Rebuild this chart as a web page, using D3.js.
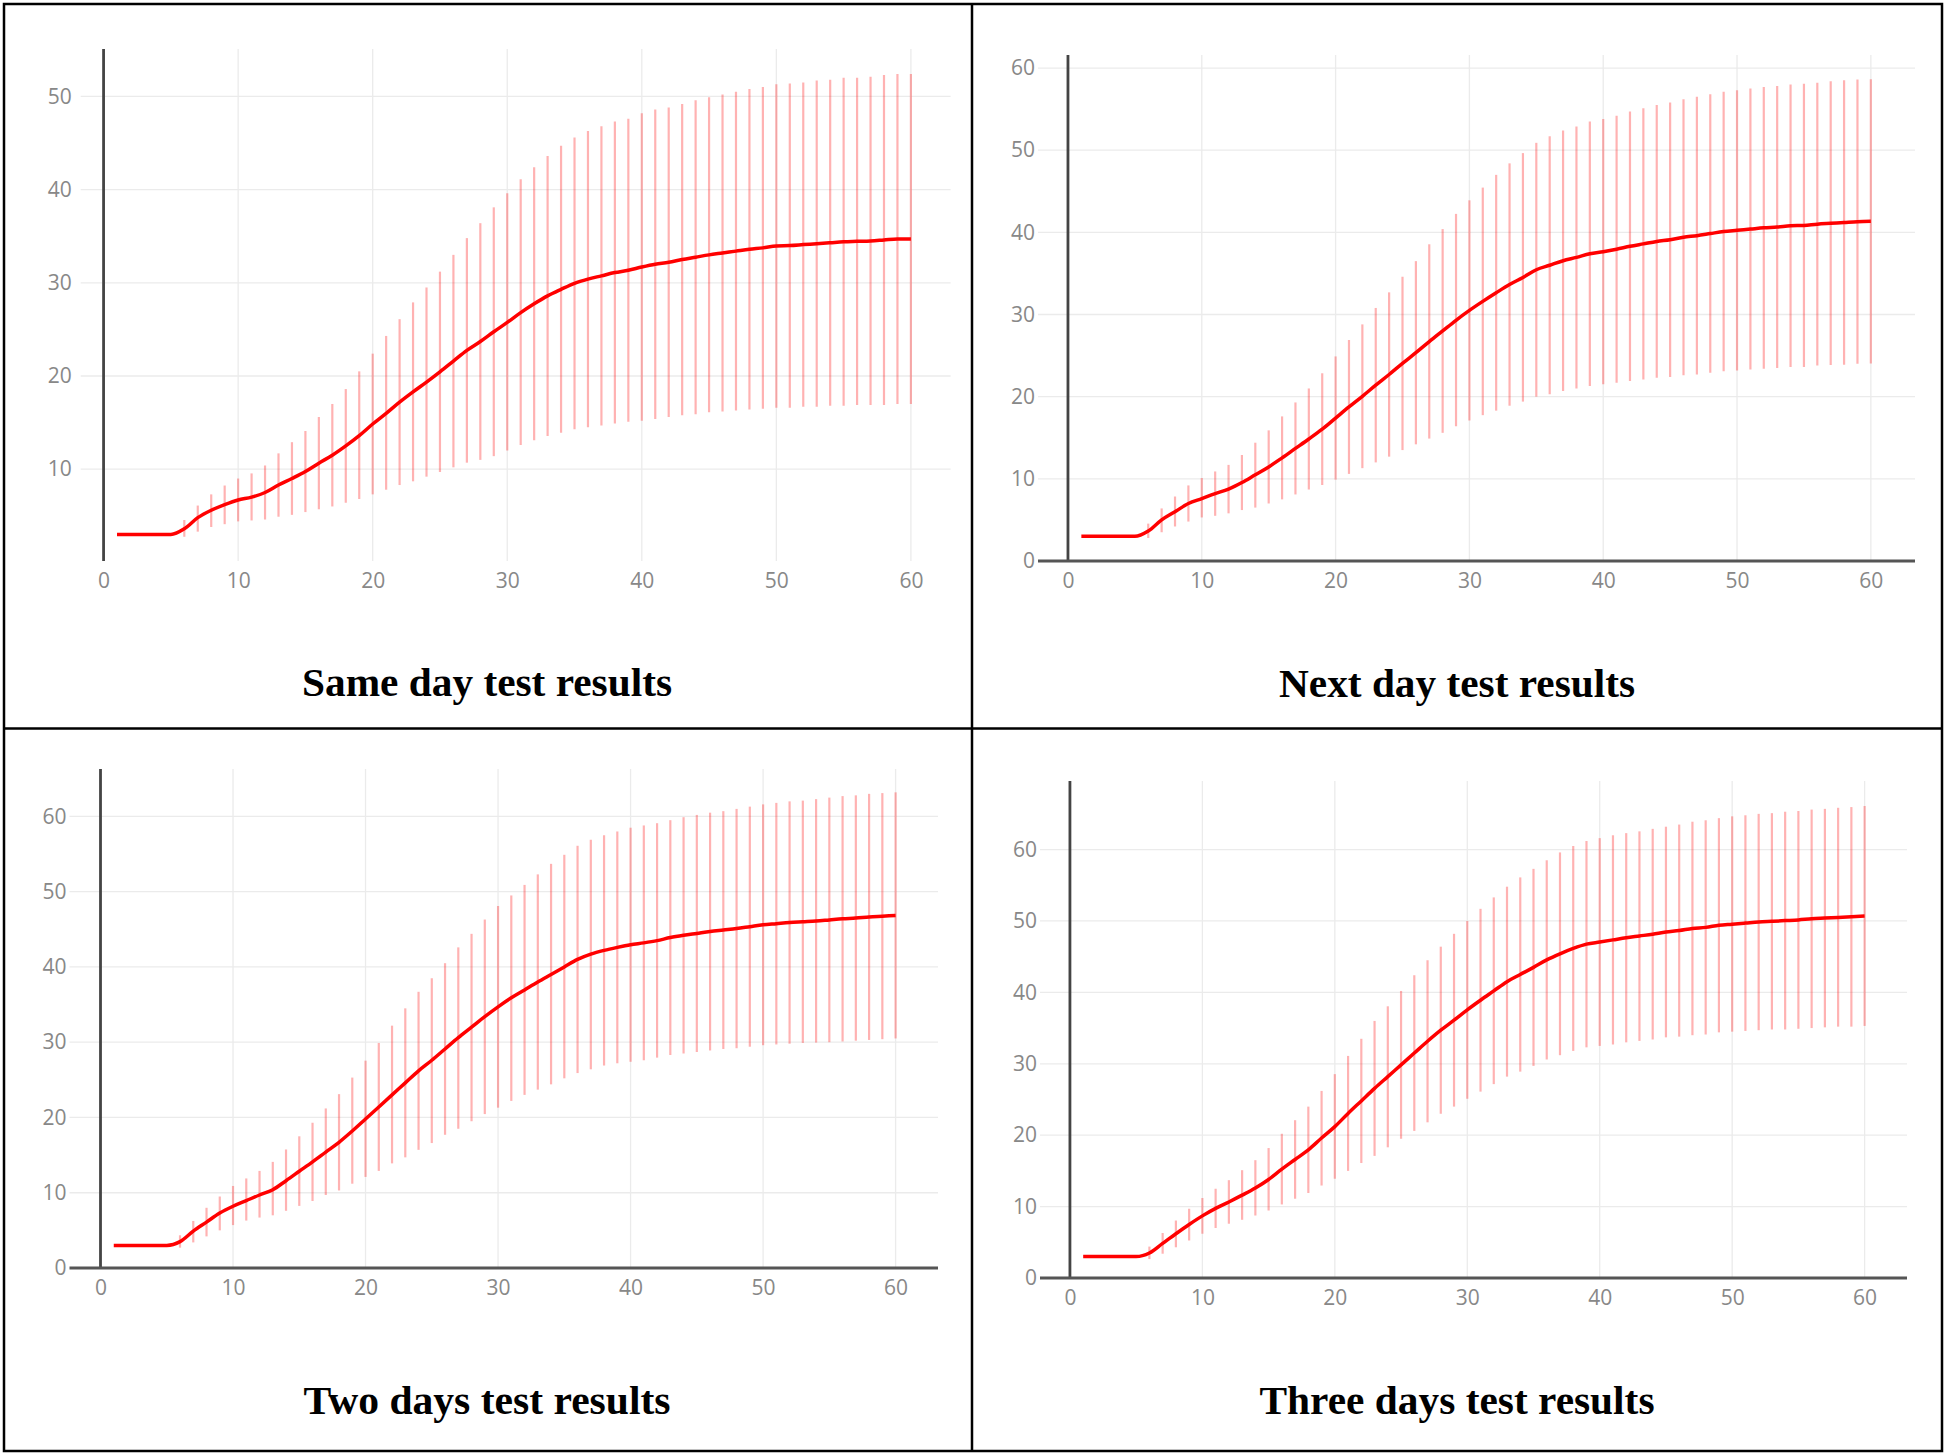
<!DOCTYPE html>
<html><head><meta charset="utf-8">
<script src="https://cdn.jsdelivr.net/npm/d3@7"></script>
<style>html,body{margin:0;padding:0;background:#fff;} svg{display:block;}</style>
</head><body><svg id="c" width="1946" height="1455"></svg>
<script>
const days = [1,2,3,4,5,6,7,8,9,10,11,12,13,14,15,16,17,18,19,20,21,22,23,24,25,26,27,28,29,30,
  31,32,33,34,35,36,37,38,39,40,41,42,43,44,45,46,47,48,49,50,51,52,53,54,55,56,57,58,59,60];
const xTicks = [0,10,20,30,40,50,60];
const yTicksSame = [10,20,30,40,50];
const yTicksOther = [0,10,20,30,40,50,60];
const titles = ["Same day test results","Next day test results","Two days test results","Three days test results"];

// Same day
const sameMean = [3,3,3,3,3,3.6,4.8,5.6,6.2,6.7,7.0,7.5,8.3,9.0,9.75,10.65,11.5,12.5,13.6,14.85,
  16.0,17.2,18.3,19.35,20.45,21.6,22.75,23.7,24.75,25.75,26.8,27.75,28.6,29.3,29.95,30.4,30.75,31.1,31.35,31.7,
  32.0,32.2,32.5,32.75,33.0,33.2,33.4,33.6,33.75,33.95,34.0,34.1,34.2,34.3,34.4,34.45,34.5,34.6,34.7,34.7];
const sameLow = [null,null,null,null,null,2.75,3.3,3.8,4.1,4.4,4.5,4.6,4.9,5.1,5.4,5.7,6.0,6.4,6.8,7.3,
  7.8,8.3,8.7,9.2,9.7,10.2,10.7,11.0,11.4,12.0,12.6,13.1,13.55,13.9,14.3,14.5,14.7,14.9,15.1,15.2,
  15.4,15.6,15.8,15.9,16.1,16.2,16.3,16.4,16.5,16.6,16.6,16.7,16.7,16.8,16.8,16.9,16.9,16.9,17.0,17.0];
const sameHigh = [null,null,null,null,null,4.55,6.1,7.3,8.25,9.0,9.55,10.4,11.7,12.9,14.1,15.6,17.0,18.6,20.5,22.4,
  24.3,26.1,27.9,29.5,31.2,33.0,34.8,36.4,38.1,39.6,41.1,42.4,43.6,44.7,45.6,46.3,46.8,47.3,47.6,48.2,
  48.6,48.8,49.2,49.6,49.9,50.2,50.5,50.8,51.0,51.3,51.4,51.5,51.7,51.8,52.0,52.0,52.1,52.3,52.4,52.4];

// Next day
const nextMean = [3,3,3,3,3,3.65,5.0,6.0,7.0,7.6,8.2,8.75,9.55,10.5,11.45,12.55,13.7,14.85,16.05,17.4,
  18.75,20.05,21.4,22.7,24.05,25.35,26.7,28.0,29.3,30.5,31.6,32.65,33.65,34.5,35.45,36.0,36.55,36.95,37.4,37.65,
  37.95,38.3,38.6,38.9,39.1,39.4,39.6,39.85,40.1,40.25,40.4,40.55,40.65,40.8,40.85,41.0,41.1,41.2,41.3,41.35];
const nextLow = [null,null,null,null,null,2.8,3.5,4.2,4.8,5.3,5.5,5.8,6.2,6.5,7.0,7.5,8.1,8.7,9.25,9.9,
  10.6,11.3,12.0,12.7,13.5,14.2,14.9,15.6,16.4,17.1,17.75,18.3,18.9,19.4,20.0,20.3,20.7,21.0,21.3,21.5,
  21.7,21.9,22.1,22.3,22.4,22.6,22.7,22.9,23.1,23.2,23.3,23.4,23.5,23.6,23.6,23.8,23.85,23.9,24.0,24.05];
const nextHigh = [null,null,null,null,null,4.55,6.4,7.85,9.2,10.1,10.9,11.7,12.9,14.4,15.9,17.6,19.3,21.0,22.85,24.9,
  26.9,28.8,30.8,32.7,34.6,36.5,38.55,40.4,42.25,43.9,45.45,47.0,48.4,49.65,50.9,51.7,52.4,52.9,53.5,53.8,
  54.2,54.7,55.1,55.5,55.8,56.2,56.5,56.8,57.1,57.3,57.5,57.7,57.8,58.0,58.1,58.2,58.4,58.5,58.6,58.65];

// Two days
const twoMean = [3,3,3,3,3,3.5,4.9,6.1,7.3,8.2,8.95,9.7,10.4,11.6,12.85,14.1,15.4,16.7,18.2,19.8,
  21.4,23.0,24.6,26.2,27.6,29.1,30.6,32.0,33.4,34.7,35.9,36.95,38.0,39.0,40.0,41.0,41.7,42.2,42.6,42.95,
  43.2,43.5,43.9,44.2,44.45,44.7,44.9,45.1,45.35,45.6,45.75,45.9,46.0,46.1,46.25,46.4,46.5,46.65,46.75,46.85];
const twoLow = [null,null,null,null,null,2.7,3.4,4.2,5.0,5.7,6.3,6.7,7.0,7.6,8.25,8.9,9.7,10.3,11.2,12.1,
  12.9,13.9,14.7,15.7,16.6,17.7,18.5,19.5,20.45,21.3,22.2,23.0,23.7,24.4,25.2,25.9,26.4,26.9,27.2,27.4,
  27.6,27.95,28.3,28.5,28.7,28.9,29.1,29.2,29.4,29.6,29.7,29.8,29.9,29.95,30.0,30.1,30.2,30.3,30.4,30.5];
const twoHigh = [null,null,null,null,null,4.35,6.25,8.0,9.5,10.9,11.9,12.9,14.1,15.75,17.5,19.3,21.2,23.1,25.3,27.55,
  29.9,32.2,34.5,36.7,38.5,40.5,42.6,44.4,46.3,48.1,49.5,50.9,52.3,53.7,54.9,56.1,56.9,57.5,58.0,58.5,
  58.8,59.1,59.5,59.9,60.2,60.5,60.7,61.0,61.3,61.6,61.8,62.0,62.1,62.3,62.5,62.7,62.8,63.0,63.1,63.2];

// Three days
const threeMean = [3,3,3,3,3,3.5,4.85,6.2,7.5,8.7,9.75,10.65,11.6,12.6,13.8,15.25,16.6,17.95,19.6,21.2,
  23.05,24.8,26.55,28.2,29.85,31.5,33.15,34.7,36.1,37.55,38.9,40.2,41.5,42.5,43.5,44.55,45.4,46.15,46.75,47.05,
  47.35,47.65,47.9,48.15,48.45,48.65,48.95,49.1,49.4,49.55,49.7,49.85,49.95,50.05,50.15,50.3,50.4,50.5,50.6,50.7];
const threeLow = [null,null,null,null,null,2.65,3.4,4.3,5.25,6.2,7.0,7.6,8.15,8.75,9.45,10.3,11.1,11.9,12.95,13.9,
  15.0,16.1,17.1,18.3,19.5,20.6,21.8,23.0,24.0,25.1,26.1,27.15,28.2,28.9,29.7,30.6,31.2,31.8,32.3,32.5,
  32.7,33.0,33.2,33.4,33.7,33.8,34.0,34.1,34.4,34.5,34.6,34.7,34.8,34.8,34.9,35.0,35.1,35.2,35.2,35.3];
const threeHigh = [null,null,null,null,null,4.4,6.3,8.05,9.7,11.2,12.5,13.7,15.1,16.5,18.2,20.2,22.1,24.0,26.2,28.55,
  31.1,33.5,36.0,38.05,40.2,42.4,44.5,46.4,48.2,50.0,51.7,53.3,54.8,56.1,57.3,58.5,59.6,60.5,61.2,61.6,
  62.0,62.3,62.55,62.9,63.2,63.5,63.9,64.1,64.4,64.65,64.8,65.0,65.1,65.3,65.4,65.6,65.7,65.85,65.95,66.1];

const panels = [
  {title:titles[0], mean:sameMean, low:sameLow, high:sameHigh, yTicks:yTicksSame,
   xDom:[-1.7,62.95], xR:[80.7,950.6], yDom:[0.15,55.1], yR:[561,48.9], zeroY:false, gap:9, cx:487, ty:696, tw:370},
  {title:titles[1], mean:nextMean, low:nextLow, high:nextHigh, yTicks:yTicksOther,
   xDom:[-2.24,63.3], xR:[1038,1915], yDom:[0,61.6], yR:[561,54.9], zeroY:true, gap:3, cx:1457, ty:697, tw:356},
  {title:titles[2], mean:twoMean, low:twoLow, high:twoHigh, yTicks:yTicksOther,
   xDom:[-2.34,63.2], xR:[69.5,938], yDom:[0,66.3], yR:[1268,769], zeroY:true, gap:3, cx:487, ty:1414, tw:367},
  {title:titles[3], mean:threeMean, low:threeLow, high:threeHigh, yTicks:yTicksOther,
   xDom:[-2.26,63.2], xR:[1040,1907], yDom:[0,69.6], yR:[1278,781], zeroY:true, gap:3, cx:1457, ty:1414, tw:395}
];

const svg = d3.select('#c');
svg.append('rect').attr('width',1946).attr('height',1455).attr('fill','#fff');

panels.forEach(p => {
  const g = svg.append('g');
  const x = d3.scaleLinear().domain(p.xDom).range(p.xR);
  const y = d3.scaleLinear().domain(p.yDom).range(p.yR);
  const gridColor = '#ebebeb';

  g.append('g').selectAll('line').data(p.yTicks.filter(v => v !== 0)).join('line')
    .attr('x1', p.xR[0]).attr('x2', p.xR[1])
    .attr('y1', d => y(d)).attr('y2', d => y(d))
    .attr('stroke', gridColor).attr('stroke-width', 1.3);
  g.append('g').selectAll('line').data(xTicks.filter(v => v !== 0)).join('line')
    .attr('x1', d => x(d)).attr('x2', d => x(d))
    .attr('y1', p.yR[1]).attr('y2', p.yR[0])
    .attr('stroke', gridColor).attr('stroke-width', 1.3);

  g.append('line').attr('x1', x(0)).attr('x2', x(0)).attr('y1', p.yR[1]).attr('y2', p.yR[0])
    .attr('stroke', '#444').attr('stroke-width', 2.8);
  if (p.zeroY) {
    g.append('line').attr('x1', p.xR[0]).attr('x2', p.xR[1]).attr('y1', y(0)).attr('y2', y(0))
      .attr('stroke', '#555').attr('stroke-width', 2.8);
  }

  const ax = g.append('g').attr('transform', `translate(0,${p.yR[0]})`)
    .call(d3.axisBottom(x).tickValues(xTicks).tickSize(0).tickPadding(12).tickFormat(d3.format('d')));
  ax.select('.domain').remove();
  const ay = g.append('g').attr('transform', `translate(${p.xR[0]},0)`)
    .call(d3.axisLeft(y).tickValues(p.yTicks).tickSize(0).tickPadding(p.gap).tickFormat(d3.format('d')));
  ay.select('.domain').remove();
  g.selectAll('.tick text').attr('font-family', "'Open Sans', sans-serif").attr('font-size', 21).attr('fill', '#888');

  const bars = days.map((d, i) => ({d, lo: p.low[i], hi: p.high[i]})).filter(b => b.lo !== null);
  g.append('g').selectAll('line').data(bars).join('line')
    .attr('x1', b => x(b.d)).attr('x2', b => x(b.d))
    .attr('y1', b => y(b.lo)).attr('y2', b => y(b.hi))
    .attr('stroke', 'rgba(255,0,0,0.3)').attr('stroke-width', 2.2);

  const line = d3.line().x((d, i) => x(days[i])).y(d => y(d)).curve(d3.curveMonotoneX);
  g.append('path').attr('d', line(p.mean)).attr('fill', 'none')
    .attr('stroke', '#ff0000').attr('stroke-width', 3.5).attr('stroke-linejoin', 'round');

  g.append('text').attr('x', p.cx).attr('y', p.ty).attr('text-anchor', 'middle')
    .attr('font-family', "'Liberation Serif', 'Times New Roman', serif").attr('font-weight', 'bold')
    .attr('font-size', 40).attr('textLength', p.tw).attr('lengthAdjust', 'spacingAndGlyphs')
    .attr('fill', '#000').text(p.title);
});

svg.append('rect').attr('x', 4).attr('y', 4).attr('width', 1938).attr('height', 1447)
  .attr('fill', 'none').attr('stroke', '#000').attr('stroke-width', 2.5);
svg.append('line').attr('x1', 972).attr('x2', 972).attr('y1', 4).attr('y2', 1451)
  .attr('stroke', '#000').attr('stroke-width', 2.5);
svg.append('line').attr('x1', 4).attr('x2', 1942).attr('y1', 728.5).attr('y2', 728.5)
  .attr('stroke', '#000').attr('stroke-width', 2.5);
</script></body></html>
